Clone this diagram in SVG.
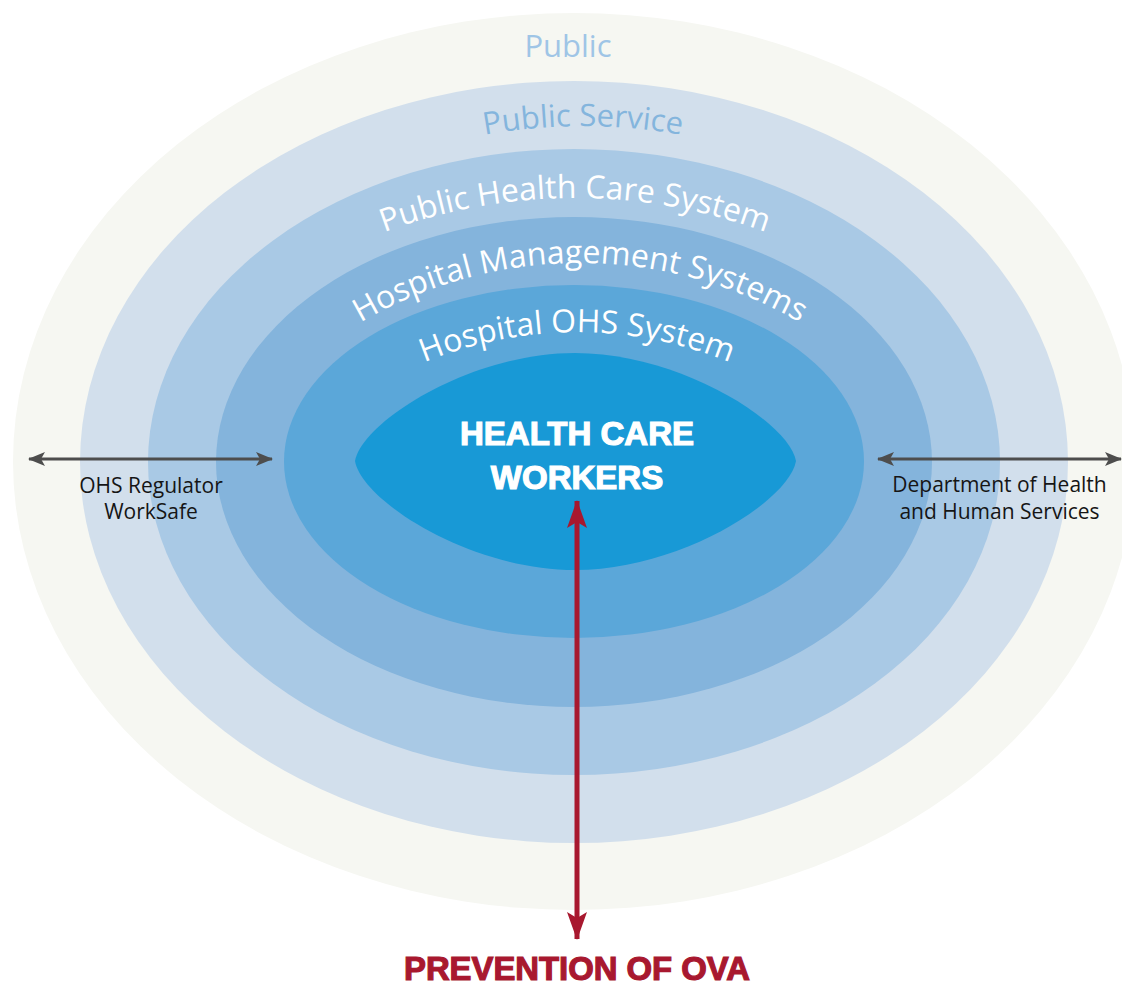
<svg xmlns="http://www.w3.org/2000/svg" width="1122" height="985" viewBox="0 0 1122 985">
  <style>
    .ring-label { font-family: "Open Sans", "Noto Sans", sans-serif; font-size: 32px; fill: #ffffff; }
    .side-label { font-family: "Open Sans", "Noto Sans", sans-serif; font-size: 21px; fill: #151515; text-anchor: middle; }
    .heavy { font-family: "Liberation Sans", Arial, sans-serif; font-weight: bold; text-anchor: middle; }
    .link { stroke: #4d4d4d; stroke-width: 3; fill: none; }
    .focus { stroke: #a8182f; stroke-width: 5; fill: none; }
  </style>
  <defs>
    <marker id="grayHead" markerUnits="userSpaceOnUse" viewBox="0 0 17 14" refX="16" refY="7" markerWidth="17" markerHeight="14" orient="auto-start-reverse">
      <path d="M0,0 L17,7 L0,14 L4,7 Z" fill="#4d4d4d"/>
    </marker>
    <marker id="redHead" markerUnits="userSpaceOnUse" viewBox="0 0 28 20" refX="27" refY="10" markerWidth="28" markerHeight="20" orient="auto-start-reverse">
      <path d="M0,0 L28,10 L0,20 L6,10 Z" fill="#a8182f"/>
    </marker>
    <path id="arcPublicService" d="M190.6,288.6 A555,555 0 0,1 975.4,288.6"/>
    <path id="arcHealthCare" d="M187.5,358.5 A548,548 0 0,1 962.5,358.5"/>
    <path id="arcManagement" d="M203.3,480.5 A435,435 0 0,1 956.7,480.5"/>
    <path id="arcOHS" d="M229,533 A402,402 0 0,1 925,533"/>
  </defs>

  <rect width="1122" height="985" fill="#ffffff"/>

  <!-- Concentric rings, outermost first -->
  <g id="public">
    <ellipse cx="574" cy="461.5" rx="561" ry="448.5" fill="#f6f7f2"/>
    <text x="568" y="57" font-family="Open Sans, Noto Sans, sans-serif" font-size="31" fill="#9fc5e6" text-anchor="middle">Public</text>
  </g>
  <g id="public-service">
    <ellipse cx="574" cy="462" rx="494" ry="381" fill="#d2dfec"/>
    <text font-family="Open Sans, Noto Sans, sans-serif" font-size="31" fill="#84b5dd" text-anchor="middle"><textPath href="#arcPublicService" startOffset="50%">Public Service</textPath></text>
  </g>
  <g id="public-health-care-system">
    <ellipse cx="574" cy="462" rx="426" ry="313" fill="#a9c9e5"/>
    <text class="ring-label" text-anchor="middle"><textPath href="#arcHealthCare" startOffset="50%">Public Health Care System</textPath></text>
  </g>
  <g id="hospital-management-systems">
    <ellipse cx="574" cy="462" rx="358" ry="245" fill="#84b4dc"/>
    <text class="ring-label" text-anchor="middle"><textPath href="#arcManagement" startOffset="50%">Hospital Management Systems</textPath></text>
  </g>
  <g id="hospital-ohs-system">
    <ellipse cx="574" cy="461.5" rx="290" ry="176.5" fill="#5ba7d9"/>
    <text class="ring-label" text-anchor="middle"><textPath href="#arcOHS" startOffset="50%">Hospital OHS System</textPath></text>
  </g>
  <g id="health-care-workers">
    <path d="M355,461 C362,422 470,353 575,353 C680,353 789,422 796,461 C789,501 680,570 575,570 C470,570 362,501 355,461 Z" fill="#1899d6"/>
    <text class="heavy" x="577" y="445" font-size="33" fill="#ffffff" stroke="#ffffff" stroke-width="1.2">HEALTH CARE</text>
    <text class="heavy" x="577" y="489" font-size="33" fill="#ffffff" stroke="#ffffff" stroke-width="1.2">WORKERS</text>
  </g>

  <!-- External bodies -->
  <g id="ohs-regulator">
    <text class="side-label" x="151" y="493">OHS Regulator</text>
    <text class="side-label" x="151" y="519">WorkSafe</text>
  </g>
  <g id="department-of-health">
    <text class="side-label" x="999.5" y="492">Department of Health</text>
    <text class="side-label" x="999.5" y="519">and Human Services</text>
  </g>
  <g id="prevention-of-ova">
    <text class="heavy" x="577" y="980" font-size="33" fill="#a8182f" stroke="#a8182f" stroke-width="1.2" textLength="346" lengthAdjust="spacingAndGlyphs">PREVENTION OF OVA</text>
  </g>

  <!-- Connectors -->
  <g id="connectors">
    <line class="link" x1="29" y1="459" x2="272" y2="459" marker-start="url(#grayHead)" marker-end="url(#grayHead)"/>
    <line class="link" x1="878" y1="459" x2="1121" y2="459" marker-start="url(#grayHead)" marker-end="url(#grayHead)"/>
    <line class="focus" x1="577" y1="501" x2="577" y2="939" marker-start="url(#redHead)" marker-end="url(#redHead)"/>
  </g>
</svg>
